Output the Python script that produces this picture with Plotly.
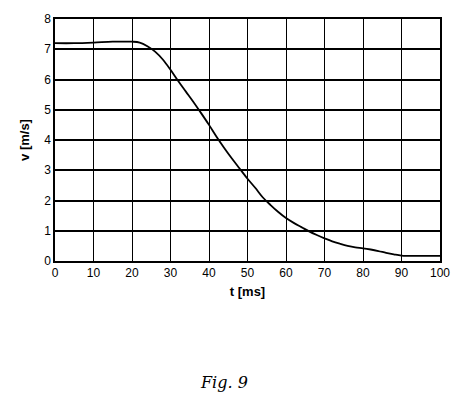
import plotly.graph_objects as go

t_ms = [0, 5, 10, 15, 20, 22, 24, 26, 28, 30, 32, 34, 36, 38, 40, 42, 44, 46, 48, 50,
        52, 54, 56, 58, 60, 62, 64, 66, 68, 70, 72, 74, 76, 78, 80, 82, 84, 86, 88, 90, 95, 100]
v_ms = [7.2, 7.2, 7.22, 7.25, 7.25, 7.22, 7.1, 6.92, 6.66, 6.32, 5.95, 5.6, 5.25, 4.88, 4.5, 4.1,
        3.73, 3.38, 3.05, 2.72, 2.42, 2.1, 1.85, 1.62, 1.42, 1.26, 1.12, 0.98, 0.86, 0.75,
        0.65, 0.57, 0.5, 0.45, 0.42, 0.38, 0.33, 0.27, 0.22, 0.18, 0.17, 0.17]
x_ticks = [0, 10, 20, 30, 40, 50, 60, 70, 80, 90, 100]
y_ticks = [0, 1, 2, 3, 4, 5, 6, 7, 8]

fig = go.Figure()
fig.add_trace(go.Scatter(x=t_ms, y=v_ms, mode="lines",
                         line=dict(color="black", width=1.8, shape="spline"),
                         showlegend=False))

font = dict(family="Liberation Sans, Arial, sans-serif", color="black", size=12)
fig.update_layout(
    width=462, height=409,
    margin=dict(l=55, r=17, t=15, b=148),
    paper_bgcolor="white", plot_bgcolor="white",
    font=font,
    xaxis=dict(range=[0, 100], tickvals=x_ticks, showgrid=True, gridcolor="black", gridwidth=1,
               zeroline=False, showline=True, linecolor="black", linewidth=1.5, mirror=True,
               ticks="", ticklen=0,
               title=dict(text="<b>t [ms]</b>", font=dict(size=13), standoff=8)),
    yaxis=dict(range=[0, 8], tickvals=y_ticks, showgrid=True, gridcolor="black", gridwidth=1.5,
               zeroline=False, showline=True, linecolor="black", linewidth=1.5, mirror=True,
               ticks="", ticklen=0,
               title=dict(text="<b>v [m/s]</b>", font=dict(size=13), standoff=12)),
)
fig.add_annotation(text="<i>Fig. 9</i>", xref="paper", yref="paper", x=0.44, y=-0.55,
                   showarrow=False, font=dict(family="DejaVu Serif", size=16, color="black"))
fig.write_html("out.html")
